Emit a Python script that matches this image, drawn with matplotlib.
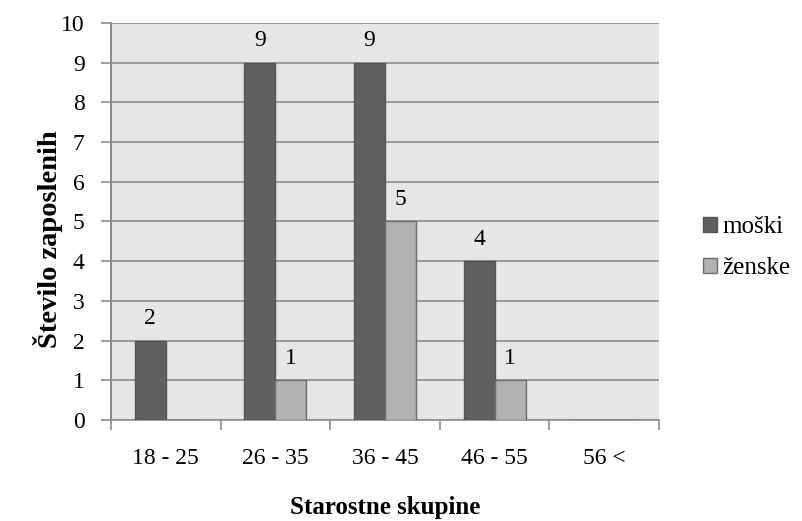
import numpy as np
import matplotlib.pyplot as plt
from matplotlib.ticker import FixedLocator

groups = ['18 - 25', '26 - 35', '36 - 45', '46 - 55', '56 <']
moski = [2, 9, 9, 4, 0]
zenske = [0, 1, 5, 1, 0]

plt.rcParams['font.family'] = ['Liberation Serif', 'DejaVu Serif']

fig = plt.figure(figsize=(8.02, 5.21), dpi=100)
ax = fig.add_axes([0.1384, 0.1939, 0.6833, 0.7620])

x = np.arange(len(groups))
w = 0.283
ax.set_facecolor('#e6e6e6')
ax.bar(x - w / 2, moski, w, color='#606060', edgecolor='#555555', linewidth=1, label='moški', zorder=3)
ax.bar(x + w / 2, zenske, w, color='#b2b2b2', edgecolor='#6e6e6e', linewidth=1, label='ženske', zorder=3)

# data labels (only for non-zero values)
for xi, v in zip(x, moski):
    if v:
        ax.text(xi - w / 2, v + 0.42, str(v), ha='center', va='baseline', fontsize=17)
for xi, v in zip(x, zenske):
    if v:
        ax.text(xi + w / 2, v + 0.42, str(v), ha='center', va='baseline', fontsize=17)

ax.set_xlim(-0.5, len(groups) - 0.5)
ax.set_ylim(0, 10)
ax.set_yticks(range(0, 11))
ax.yaxis.grid(True, color='#8c8c8c', linewidth=1.2, zorder=1)
ax.set_axisbelow(True)

ax.set_xticks(x)
ax.set_xticklabels(groups, fontsize=17)
ax.tick_params(axis='x', length=0, pad=20)
ax.xaxis.set_minor_locator(FixedLocator(np.arange(-0.5, len(groups), 1)))
ax.tick_params(axis='x', which='minor', length=7, color='#8c8c8c', width=1.2)
ax.tick_params(axis='y', length=7, color='#8c8c8c', width=1.2, labelsize=17, pad=12)

for side in ['top', 'right']:
    ax.spines[side].set_visible(False)
ax.spines['left'].set_color('#8c8c8c')
ax.spines['left'].set_linewidth(1.5)
ax.spines['bottom'].set_color('#8c8c8c')
ax.spines['bottom'].set_linewidth(1.2)

ax.set_xlabel('Starostne skupine', fontsize=18, fontweight='bold')
ax.xaxis.set_label_coords(0.5, -0.238)
ax.xaxis.label.set_va('baseline')
ax.set_ylabel('Število zaposlenih', fontsize=20.5, fontweight='bold')
ax.yaxis.set_label_coords(-0.115, 0.455)
ax.yaxis.label.set_va('center')

ax.legend(loc='upper left', bbox_to_anchor=(0.8766, 0.585), bbox_transform=fig.transFigure,
          frameon=False, fontsize=18, borderpad=0, borderaxespad=0,
          handlelength=0.56, handleheight=0.56, handletextpad=0.2, labelspacing=0.75)

fig.savefig('out.png', dpi=100)
